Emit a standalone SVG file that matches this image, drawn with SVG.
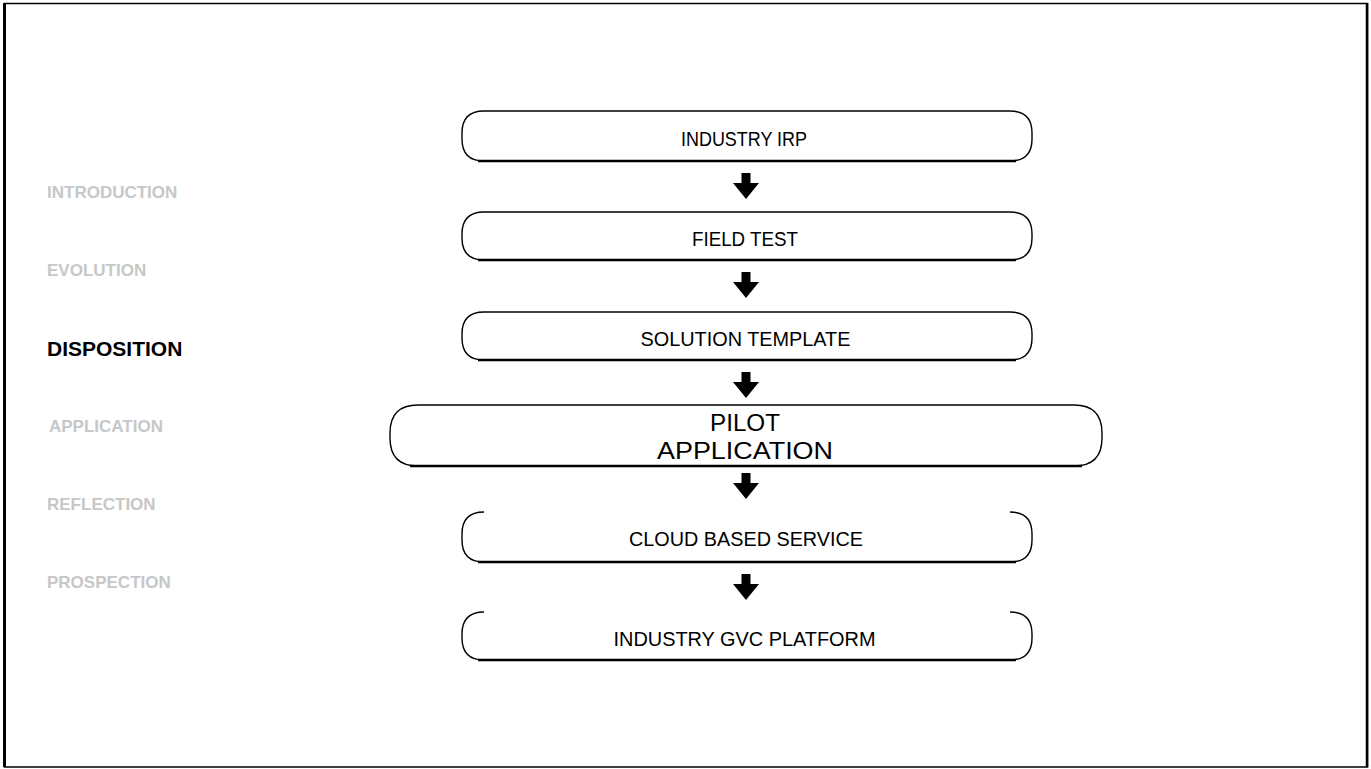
<svg xmlns="http://www.w3.org/2000/svg" width="1371" height="769" viewBox="0 0 1371 769">
<defs>
<style>
.box{fill:#fff;stroke:#000;stroke-width:1.4}
.base{fill:none;stroke:#000;stroke-width:2.4}
.t{font-family:"Liberation Sans",Arial,sans-serif;font-size:19.5px;fill:#000;text-anchor:middle}
.tb{font-family:"Liberation Sans",Arial,sans-serif;font-size:24px;fill:#000;text-anchor:middle}
.side{font-family:"Liberation Sans",Arial,sans-serif;font-size:17px;font-weight:bold;fill:#c6c7c9}
.sideOn{font-family:"Liberation Sans",Arial,sans-serif;font-size:21px;font-weight:bold;fill:#000}
.arr{fill:#000}
</style>
<path id="ar" d="M-4.5,0 H4.5 V10 H13 L0,26 L-13,10 H-4.5 Z"/>
</defs>
<rect x="0" y="0" width="1371" height="769" fill="#fff"/>
<path d="M4.5,767 V3.5 H1367.5 V767 Z" fill="none" stroke="#000" stroke-width="1.5"/>
<line x1="4.5" y1="3" x2="4.5" y2="767" stroke="#000" stroke-width="3"/>
<line x1="1367" y1="3" x2="1367" y2="767" stroke="#000" stroke-width="2.5"/>

<g id="side-labels">
<text class="side" x="47" y="198">INTRODUCTION</text>
<text class="side" x="47" y="276">EVOLUTION</text>
<text class="sideOn" x="47" y="356">DISPOSITION</text>
<text class="side" x="49" y="432">APPLICATION</text>
<text class="side" x="47" y="510">REFLECTION</text>
<text class="side" x="47" y="588">PROSPECTION</text>
</g>

<g id="n1">
<path class="box" d="M484,111 H1010 Q1032,111 1032,133 V139 Q1032,161 1010,161 H484 Q462,161 462,139 V133 Q462,111 484,111 Z"/>
<path class="base" d="M478,161 H1016"/>
<text class="t" x="744" y="146" textLength="126" lengthAdjust="spacingAndGlyphs">INDUSTRY IRP</text>
</g>
<g id="n2">
<path class="box" d="M484,212 H1010 Q1032,212 1032,234 V238 Q1032,260 1010,260 H484 Q462,260 462,238 V234 Q462,212 484,212 Z"/>
<path class="base" d="M478,260 H1016"/>
<text class="t" x="745" y="246" textLength="106" lengthAdjust="spacingAndGlyphs">FIELD TEST</text>
</g>
<g id="n3">
<path class="box" d="M484,312 H1010 Q1032,312 1032,334 V338 Q1032,360 1010,360 H484 Q462,360 462,338 V334 Q462,312 484,312 Z"/>
<path class="base" d="M478,360 H1016"/>
<text class="t" x="745.5" y="346" textLength="210" lengthAdjust="spacingAndGlyphs">SOLUTION TEMPLATE</text>
</g>
<g id="n4">
<path class="box" d="M418,405 H1074 Q1102,405 1102,433 V438 Q1102,466 1074,466 H418 Q390,466 390,438 V433 Q390,405 418,405 Z"/>
<path class="base" d="M410,466 H1082"/>
<text class="tb" x="745" y="431" textLength="70" lengthAdjust="spacingAndGlyphs">PILOT</text>
<text class="tb" x="745" y="459" textLength="176" lengthAdjust="spacingAndGlyphs">APPLICATION</text>
</g>
<g id="n5">
<path class="box" fill="none" d="M484,512 Q462,512 462,534 V540 Q462,562 484,562 H1010 Q1032,562 1032,540 V534 Q1032,512 1010,512"/>
<path class="base" d="M478,562 H1016"/>
<text class="t" x="746" y="546" textLength="234" lengthAdjust="spacingAndGlyphs">CLOUD BASED SERVICE</text>
</g>
<g id="n6">
<path class="box" fill="none" d="M484,612 Q462,612 462,634 V638 Q462,660 484,660 H1010 Q1032,660 1032,638 V634 Q1032,612 1010,612"/>
<path class="base" d="M478,660 H1016"/>
<text class="t" x="744.5" y="646" textLength="262" lengthAdjust="spacingAndGlyphs">INDUSTRY GVC PLATFORM</text>
</g>

<g id="connectors">
<use href="#ar" class="arr" x="746" y="173"/>
<use href="#ar" class="arr" x="746" y="272"/>
<use href="#ar" class="arr" x="746" y="372"/>
<use href="#ar" class="arr" x="746" y="473"/>
<use href="#ar" class="arr" x="746" y="574"/>
</g>
</svg>
